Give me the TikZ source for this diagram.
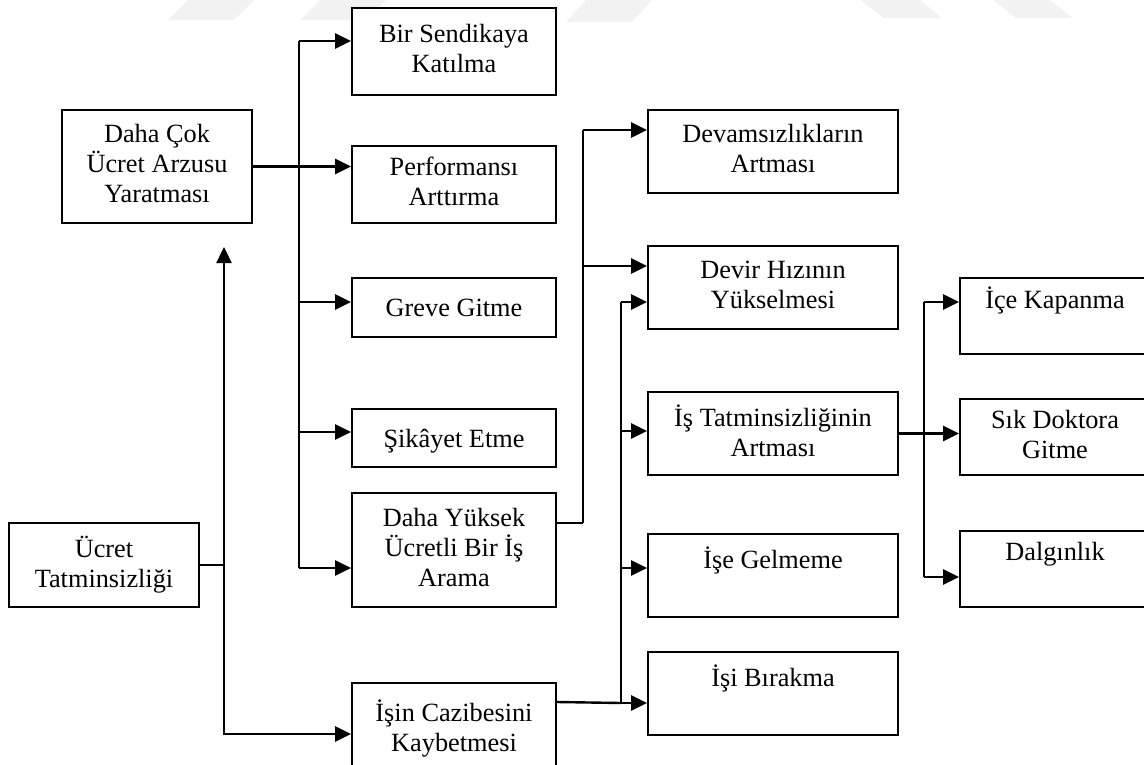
\documentclass[tikz,border=0pt]{standalone}
\usepackage{fontspec}
\setmainfont{Liberation Serif}
\usetikzlibrary{arrows.meta,calc}
\newcommand{\mystrut}{\rule[-6pt]{0pt}{30pt}}
\begin{document}
\begin{tikzpicture}[x=1pt,y=-1pt,
  box/.style={draw, line width=1.8pt, fill=white, align=center, inner sep=0pt,
    font=\fontsize{26.3}{30}\selectfont, execute at begin node=\mystrut, execute at end node=\mystrut},
  colA/.style={box, minimum width=204pt},
  colB/.style={box, minimum width=250pt},
  colC/.style={box, minimum width=190pt},
  conn/.style={line width=2.4pt},
  thinconn/.style={line width=1.8pt},
  arr/.style={conn, -{Triangle[length=16pt,width=15pt]}},
  wm/.style={fill=black!5, draw=none}]
\useasboundingbox (0,0) rectangle (1144,764);
% faint watermark
\fill[wm] (168,20) -- (234,20) -- (254,0) -- (188,0) -- cycle;
\fill[wm] (300,20) -- (366,20) -- (386,0) -- (320,0) -- cycle;
\fill[wm] (566,22) -- (632,22) -- (652,0) -- (586,0) -- cycle;
\fill[wm] (861,0) -- (920,0) -- (942,18) -- (883,18) -- cycle;
\fill[wm] (993,0) -- (1050,0) -- (1073,18) -- (1016,18) -- cycle;
% nodes
\node[box, minimum width=190pt, minimum height=84pt] (ucret) at (104,565) {Ücret\\Tatminsizliği};
\node[box, minimum width=190pt, minimum height=113pt] (daha) at (157,166.5) {Daha Çok\\Ücret Arzusu\\Yaratması};
\node[colA, minimum height=87pt] (bir) at (454,51.5) {Bir Sendikaya\\Katılma};
\node[colA, minimum height=77pt] (perf) at (454,184.5) {Performansı\\Arttırma};
\node[colA, minimum height=59pt] (greve) at (454,307.5) {Greve Gitme};
\node[colA, minimum height=58pt] (sikayet) at (454,438) {Şikâyet Etme};
\node[colA, minimum height=114pt] (yuksek) at (454,550) {Daha Yüksek\\Ücretli Bir İş\\Arama};
\node[colA, minimum height=92pt] (cazibe) at (454,729) {İşin Cazibesini\\Kaybetmesi};
\node[colB, minimum height=83pt] (devam) at (773,151.5) {Devamsızlıkların\\Artması};
\node[colB, minimum height=83pt] (devir) at (773,287.5) {Devir Hızının\\Yükselmesi};
\node[colB, minimum height=83pt] (istat) at (773,433.5) {İş Tatminsizliğinin\\Artması};
\node[colB, minimum height=83pt] (isegel) at (773,575.5) {İşe Gelmeme\\~};
\node[colB, minimum height=83pt] (isibirak) at (773,693.5) {İşi Bırakma\\~};
\node[colC, minimum height=76pt] (ice) at (1055,316) {İçe Kapanma\\~};
\node[colC, minimum height=76pt] (sik) at (1055,437) {Sık Doktora\\Gitme};
\node[colC, minimum height=76pt] (dalgin) at (1055,569) {Dalgınlık\\~};
% bus coordinates
\coordinate (busA) at (224,565);
\coordinate (upTip) at (224,247);
\coordinate (bBtop) at (299,41);
\coordinate (bBgreve) at (299,302);
\coordinate (bBsik) at (299,432);
\coordinate (bBbot) at (299,568);
\coordinate (bCtop) at (583,130);
\coordinate (bCdevir) at (583,266);
\coordinate (bCbot) at (583,523);
\coordinate (bDtop) at (621,302);
\coordinate (bDistat) at (621,431);
\coordinate (bDgel) at (621,568);
\coordinate (bDbot) at (621,703);
\coordinate (bEtop) at (924,302);
\coordinate (bEbot) at (924,577);
% Ücret Tatminsizliği
\draw[thinconn] (ucret.east) -- (busA);
\draw[arr] (busA) -- (upTip);
\draw[arr] (busA) |- ([yshift=-5pt]cazibe.west);
% Daha Çok Ücret Arzusu
\draw[arr] (daha.east) -- (daha.east -| perf.west);
\draw[conn] (bBtop) -- (bBbot);
\draw[arr] (bBtop) -- (bir.west |- bBtop);
\draw[arr] (bBgreve) -- (greve.west |- bBgreve);
\draw[arr] (bBsik) -- (sikayet.west |- bBsik);
\draw[arr] (bBbot) -- (yuksek.west |- bBbot);
% Daha Yüksek Ücretli Bir İş Arama
\draw[thinconn] ([yshift=27pt]yuksek.east) -- (bCbot);
\draw[conn] (bCbot) -- (bCtop);
\draw[arr] (bCtop) -- (devam.west |- bCtop);
\draw[arr] (bCdevir) -- (devir.west |- bCdevir);
% İşin Cazibesini Kaybetmesi
\draw[conn] ([yshift=27pt]cazibe.east) -- (bDbot);
\draw[conn] (bDbot) -- (bDtop);
\draw[arr] (bDtop) -- (devir.west |- bDtop);
\draw[arr] (bDistat) -- (istat.west |- bDistat);
\draw[arr] (bDgel) -- (isegel.west |- bDgel);
\draw[arr] (bDbot) -- (isibirak.west |- bDbot);
% İş Tatminsizliğinin Artması
\draw[arr] (istat.east) -- (istat.east -| sik.west);
\draw[conn] (bEtop) -- (bEbot);
\draw[arr] (bEtop) -- (ice.west |- bEtop);
\draw[arr] (bEbot) -- (dalgin.west |- bEbot);
\end{tikzpicture}
\end{document}
